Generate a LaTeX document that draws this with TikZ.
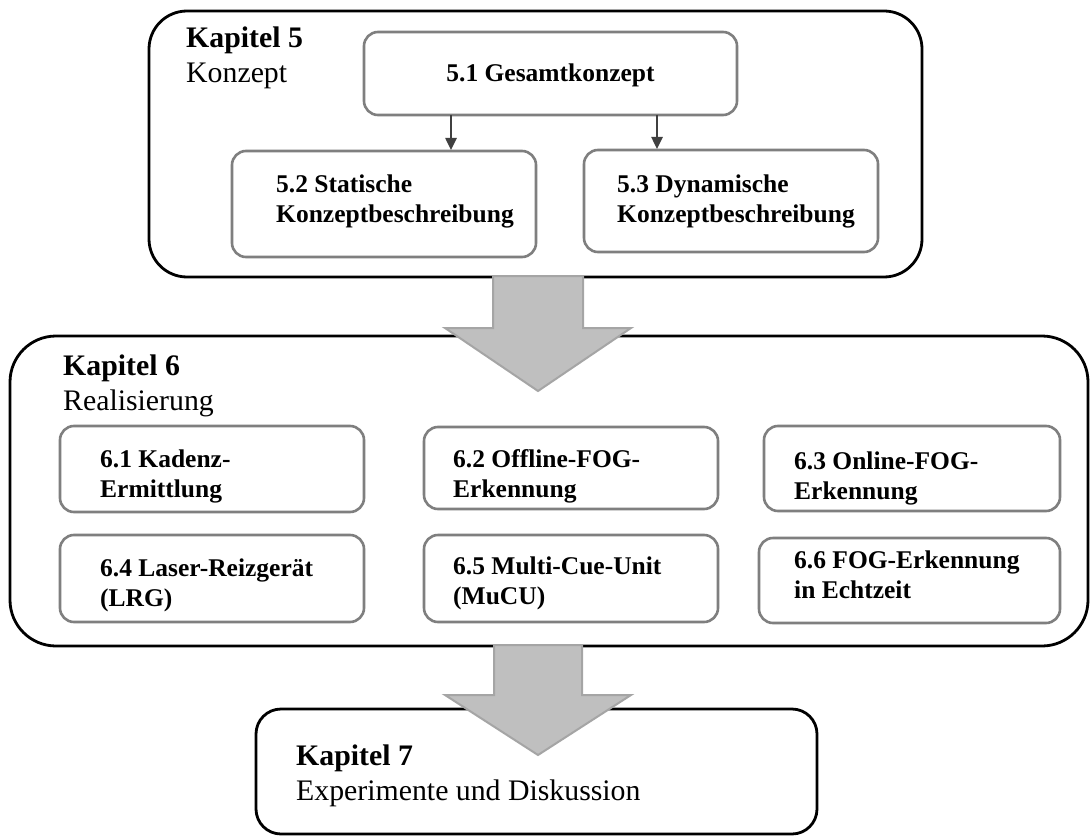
\documentclass[tikz,border=0pt]{standalone}
\usepackage{fontspec}
\setmainfont{Liberation Serif}
\usetikzlibrary{arrows.meta}
\definecolor{framegray}{RGB}{127,127,127}
\definecolor{linkgray}{RGB}{64,64,64}
\definecolor{flowfill}{RGB}{191,191,191}
\definecolor{flowedge}{RGB}{165,165,165}
\begin{document}
\begin{tikzpicture}[x=1pt,y=-1pt,
  chapterbox/.style={draw=black, line width=2.8pt, fill=white, rounded corners=#1,
    inner sep=0pt, outer sep=0pt},
  sectionbox/.style={draw=framegray, line width=2.6pt, fill=white, rounded corners=14pt,
    inner sep=0pt, outer sep=0pt},
  % multi-line texts are placed by the baseline of their last line
  chaptertext/.style={anchor=base west, align=left, inner sep=0pt,
    font=\fontsize{29.8}{35}\selectfont},
  sectiontext/.style={anchor=base west, align=left, inner sep=0pt,
    font=\bfseries\fontsize{25.5}{30}\selectfont},
  link/.style={draw=linkgray, line width=2.5pt,
    -{Triangle[width=11pt,length=12pt]}, shorten >=1pt},
  flowarrow/.style={draw=flowedge, line width=2pt, fill=flowfill, line join=miter}
]
\useasboundingbox (0,0) rectangle (1091,837);

% Chapter 5: concept
\node[chapterbox=38pt, minimum width=773pt, minimum height=266pt] (k5) at (535.5,144) {};
\node[chaptertext] (k5t) at (186,83) {\textbf{Kapitel 5}\\Konzept};
\node[sectionbox, minimum width=373pt, minimum height=83pt] (b51) at (550.5,73.5) {};
\node[sectiontext, anchor=base] (t51) at (550.5,82) {5.1 Gesamtkonzept};
\node[sectionbox, minimum width=304pt, minimum height=106pt] (b52) at (384,204) {};
\node[sectiontext] (t52) at (276,222) {5.2 Statische\\Konzeptbeschreibung};
\node[sectionbox, minimum width=294pt, minimum height=102pt] (b53) at (731,201) {};
\node[sectiontext] (t53) at (617,222) {5.3 Dynamische\\Konzeptbeschreibung};

\coordinate (l1) at (451,0);
\coordinate (l2) at (657,0);
\draw[link] (b51.south -| l1) -- (b52.north -| l1);
\draw[link] (b51.south -| l2) -- (b53.north -| l2);

% Chapter 6: realisation
\node[chapterbox=46pt, minimum width=1078pt, minimum height=310pt] (k6) at (549,491) {};
\node[chaptertext] (k6t) at (63,410) {\textbf{Kapitel 6}\\Realisierung};
\node[sectionbox, minimum width=304pt, minimum height=86pt] (b61) at (212,469) {};
\node[sectiontext] (t61) at (100,497) {6.1 Kadenz-\\Ermittlung};
\node[sectionbox, minimum width=294pt, minimum height=82pt] (b62) at (571,468) {};
\node[sectiontext] (t62) at (453,497) {6.2 Offline-FOG-\\Erkennung};
\node[sectionbox, minimum width=296pt, minimum height=85pt] (b63) at (912,468.5) {};
\node[sectiontext] (t63) at (794,499) {6.3 Online-FOG-\\Erkennung};
\node[sectionbox, minimum width=304pt, minimum height=87pt] (b64) at (212,578.5) {};
\node[sectiontext] (t64) at (100,606) {6.4 Laser-Reizgerät\\(LRG)};
\node[sectionbox, minimum width=294pt, minimum height=87pt] (b65) at (571,578.5) {};
\node[sectiontext] (t65) at (453,604) {6.5 Multi-Cue-Unit\\(MuCU)};
\node[sectionbox, minimum width=301pt, minimum height=85pt] (b66) at (909.5,580.5) {};
\node[sectiontext] (t66) at (794,598) {6.6 FOG-Erkennung\\in Echtzeit};

% Chapter 7: experiments
\node[chapterbox=25pt, minimum width=561pt, minimum height=125pt] (k7) at (536.5,771.5) {};
\node[chaptertext] (k7t) at (296,800) {\textbf{Kapitel 7}\\Experimente und Diskussion};

% Block arrows between the chapters
\coordinate (a1) at (538,276);
\coordinate (a2) at (538,645);
\draw[flowarrow] (a1) ++(-45,0) -- ++(0,52) -- ++(-48,0) -- ++(93,63)
  -- ++(93,-63) -- ++(-48,0) -- ++(0,-52) -- cycle;
\draw[flowarrow] (a2) ++(-44,0) -- ++(0,50) -- ++(-49,0) -- ++(93,60)
  -- ++(93,-60) -- ++(-49,0) -- ++(0,-50) -- cycle;
\end{tikzpicture}
\end{document}
